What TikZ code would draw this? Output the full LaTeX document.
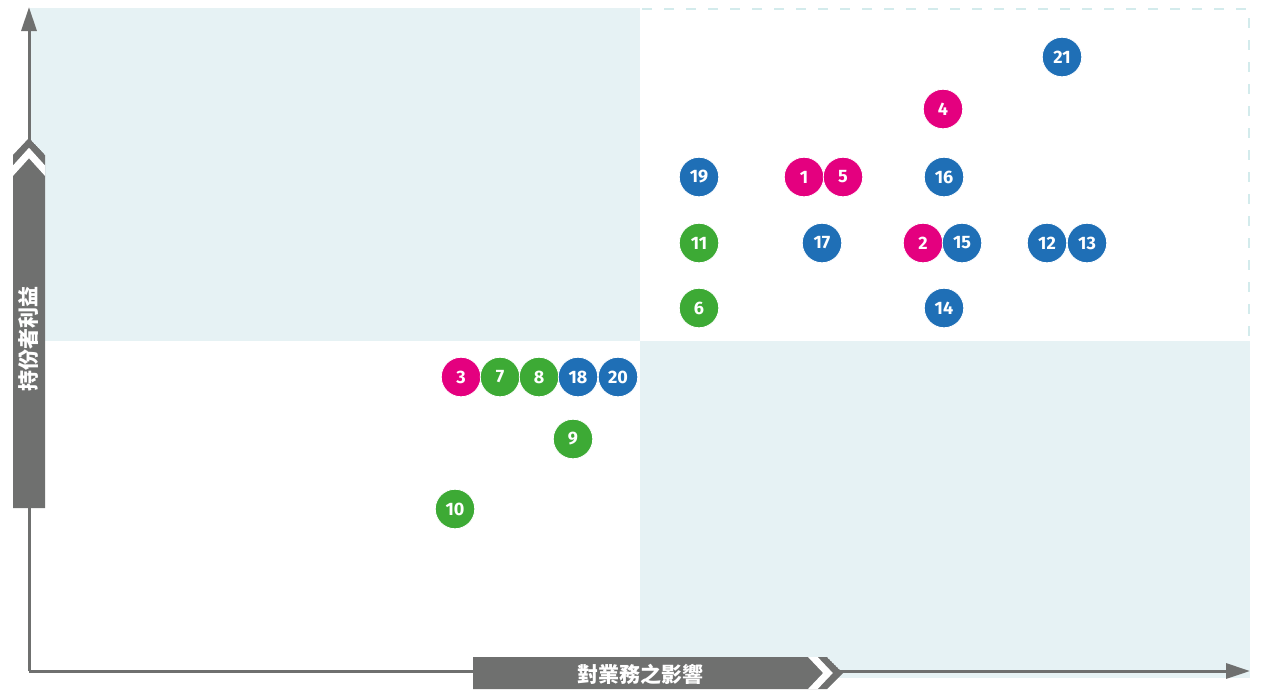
\documentclass[tikz,border=0pt]{standalone}
\usepackage{fontspec}
\setmainfont{Fira Sans}
\newfontfamily\cjk{Noto Sans CJK TC}
\usetikzlibrary{arrows.meta}
\definecolor{paleblue}{HTML}{E6F2F4}
\definecolor{dashblue}{HTML}{D3EBEC}
\definecolor{axisgray}{HTML}{6F706F}
\definecolor{riskpink}{HTML}{E4007F}
\definecolor{riskgreen}{HTML}{3DAA35}
\definecolor{riskblue}{HTML}{1F6FB6}

\begin{document}
\begin{tikzpicture}[x=1pt, y=-1pt,
	dot/.style = {circle, draw=white, line width=0.8pt, minimum size=39.5pt, inner sep=0pt, text=white, font=\fontsize{18}{18}\selectfont\bfseries},
	pinkdot/.style = {dot, fill=riskpink},
	greendot/.style = {dot, fill=riskgreen},
	bluedot/.style = {dot, fill=riskblue},
	band/.style = {text=white, font=\cjk\bfseries\fontsize{21}{21}\selectfont},
	>={Triangle[length=24pt, width=15pt]}]
				\useasboundingbox (0,0) rectangle (1262,689);
				% quadrants
				\fill[paleblue] (30,8) rectangle (640,341);
				\fill[paleblue] (640,341) rectangle (1250,678);
				\draw[dashblue, line width=2pt, dash pattern=on 10pt off 12pt] (642,9) -- (1249,9) -- (1249,341);
				% axes
				\coordinate (O) at (29,671);
				\coordinate (Y) at (29,7);
				\coordinate (X) at (1250,671);
				\draw[axisgray, line width=3pt, ->] (O) -- (Y);
				\draw[axisgray, line width=3pt, ->] (O) -- (X);
				% axis labels
				\begin{scope}
					\clip (13,508) -- (13,155) -- (29,138) -- (45,155) -- (45,508) -- cycle;
					\fill[axisgray] (13,508) -- (13,155) -- (29,138) -- (45,155) -- (45,508) -- cycle;
					\draw[white, line width=7pt] (10,174) -- (29,153) -- (48,174);
				\end{scope}
				\node[band, rotate=90] (ylab) at (29,339) {持份者利益};
				\begin{scope}
					\clip (473,657) -- (827,657) -- (843,673) -- (827,689) -- (473,689) -- cycle;
					\fill[axisgray] (473,657) -- (827,657) -- (843,673) -- (827,689) -- (473,689) -- cycle;
					\draw[white, line width=7pt] (810,654) -- (828,673) -- (810,692);
				\end{scope}
				\node[band] (xlab) at (640,674) {對業務之影響};
				% risks
				\node[bluedot] (r21) at (1062,57) {21};
				\node[pinkdot] (r4) at (943,109) {4};
				\node[bluedot] (r19) at (699,177) {19};
				\node[pinkdot] (r1) at (804,177) {1};
				\node[pinkdot] (r5) at (843,177) {5};
				\node[bluedot] (r16) at (944,177) {16};
				\node[greendot] (r11) at (699,243) {11};
				\node[bluedot] (r17) at (822,243) {17};
				\node[pinkdot] (r2) at (923,243) {2};
				\node[bluedot] (r15) at (962,243) {15};
				\node[bluedot] (r12) at (1047,243) {12};
				\node[bluedot] (r13) at (1087,243) {13};
				\node[greendot] (r6) at (699,308) {6};
				\node[bluedot] (r14) at (944,308) {14};
				\node[pinkdot] (r3) at (461,377) {3};
				\node[greendot] (r7) at (500,377) {7};
				\node[greendot] (r8) at (539,377) {8};
				\node[bluedot] (r18) at (578,377) {18};
				\node[bluedot] (r20) at (618,377) {20};
				\node[greendot] (r9) at (573,439) {9};
				\node[greendot] (r10) at (455,509) {10};
			\end{tikzpicture}
\end{document}
